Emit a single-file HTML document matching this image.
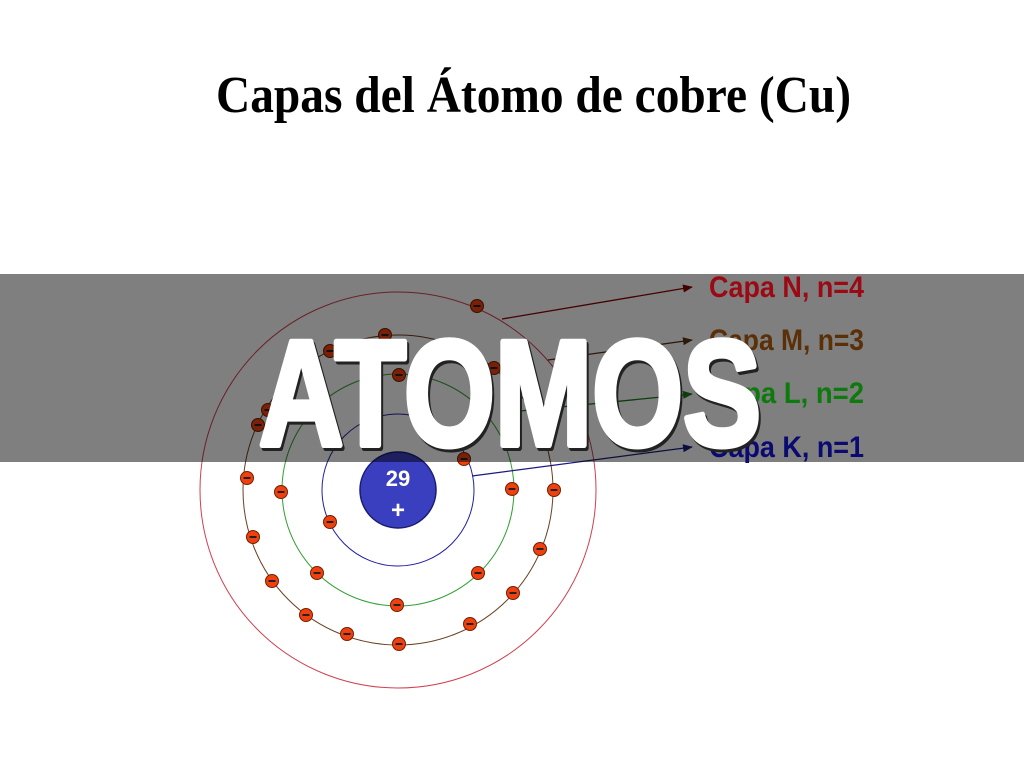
<!DOCTYPE html>
<html><head><meta charset="utf-8"><style>html,body{margin:0;padding:0;background:#fff}svg{display:block}</style></head>
<body>
<svg width="1024" height="768" viewBox="0 0 1024 768" xmlns="http://www.w3.org/2000/svg">
<defs>
<marker id="aN" markerWidth="10" markerHeight="8" refX="9" refY="4" orient="auto" markerUnits="userSpaceOnUse"><path d="M0,0 L10,4 L0,8 Z" fill="#8b0000"/></marker>
<marker id="aM" markerWidth="10" markerHeight="8" refX="9" refY="4" orient="auto" markerUnits="userSpaceOnUse"><path d="M0,0 L10,4 L0,8 Z" fill="#5a3210"/></marker>
<marker id="aL" markerWidth="10" markerHeight="8" refX="9" refY="4" orient="auto" markerUnits="userSpaceOnUse"><path d="M0,0 L10,4 L0,8 Z" fill="#1a7a1a"/></marker>
<marker id="aK" markerWidth="10" markerHeight="8" refX="9" refY="4" orient="auto" markerUnits="userSpaceOnUse"><path d="M0,0 L10,4 L0,8 Z" fill="#1a1a80"/></marker>
<g id="e"><circle r="6.5" fill="#f04010" stroke="#702000" stroke-width="1"/><rect x="-3.5" y="-1" width="7" height="2" fill="#222"/></g>
</defs>
<text x="216" y="112" font-family="Liberation Serif, serif" font-weight="bold" font-size="52" textLength="635" lengthAdjust="spacingAndGlyphs" fill="#000">Capas del Átomo de cobre (Cu)</text>

<g fill="none" stroke-width="1">
<circle cx="398" cy="490" r="198" stroke="#d04050"/>
<circle cx="398" cy="490" r="155" stroke="#6a4020"/>
<circle cx="398" cy="490" r="116" stroke="#30a030"/>
<circle cx="398" cy="490" r="76" stroke="#2020a0"/>
</g>
<line x1="502" y1="319" x2="692" y2="287" stroke="#8b0000" stroke-width="1.3" marker-end="url(#aN)"/>
<line x1="548" y1="360" x2="692" y2="340" stroke="#5a3210" stroke-width="1.3" marker-end="url(#aM)"/>
<line x1="510" y1="412" x2="692" y2="394" stroke="#1a7a1a" stroke-width="1.3" marker-end="url(#aL)"/>
<line x1="472" y1="476" x2="692" y2="447" stroke="#1a1a80" stroke-width="1.3" marker-end="url(#aK)"/>

<circle cx="398" cy="490" r="38" fill="#3a3fc0" stroke="#1a1d70" stroke-width="1.5"/>
<text x="398" y="486" text-anchor="middle" font-family="Liberation Sans, sans-serif" font-weight="bold" font-size="22" fill="#fff">29</text>
<text x="398" y="518" text-anchor="middle" font-family="Liberation Sans, sans-serif" font-weight="bold" font-size="24" fill="#fff">+</text>

<g>
<use href="#e" x="477" y="306"/><use href="#e" x="385" y="335"/><use href="#e" x="330" y="351"/>
<use href="#e" x="399" y="375"/><use href="#e" x="494" y="368"/><use href="#e" x="292" y="378"/>
<use href="#e" x="258" y="425"/><use href="#e" x="483" y="410"/><use href="#e" x="530" y="397"/>
<use href="#e" x="547" y="440"/><use href="#e" x="268" y="410"/>
<use href="#e" x="464" y="459"/><use href="#e" x="330" y="522"/><use href="#e" x="281" y="492"/>
<use href="#e" x="397" y="605"/><use href="#e" x="478" y="573"/><use href="#e" x="317" y="573"/>
<use href="#e" x="512" y="489"/><use href="#e" x="247" y="478"/><use href="#e" x="554" y="490"/>
<use href="#e" x="253" y="537"/><use href="#e" x="540" y="549"/><use href="#e" x="272" y="581"/>
<use href="#e" x="513" y="593"/><use href="#e" x="306" y="615"/><use href="#e" x="470" y="624"/>
<use href="#e" x="347" y="634"/><use href="#e" x="399" y="644"/>
</g>

<rect x="0" y="274" width="1024" height="188" fill="rgba(0,0,0,0.5)"/>

<g font-family="Liberation Sans, sans-serif" font-weight="bold" font-size="30">
<text x="709" y="297" textLength="155" lengthAdjust="spacingAndGlyphs" fill="#9b0a14">Capa N, n=4</text>
<text x="709" y="350" textLength="155" lengthAdjust="spacingAndGlyphs" fill="#5a3008">Capa M, n=3</text>
<text x="709" y="403" textLength="155" lengthAdjust="spacingAndGlyphs" fill="#0d7a0d">Capa L, n=2</text>
<text x="709" y="457" textLength="155" lengthAdjust="spacingAndGlyphs" fill="#0a0a70">Capa K, n=1</text>
</g>

<text x="261" y="448" font-family="Liberation Sans, sans-serif" font-weight="bold" font-size="150" textLength="502" lengthAdjust="spacingAndGlyphs" fill="#222" stroke="#222" stroke-width="6" stroke-linejoin="round">ATOMOS</text>
<text x="259" y="445" font-family="Liberation Sans, sans-serif" font-weight="bold" font-size="150" textLength="502" lengthAdjust="spacingAndGlyphs" fill="#fff" stroke="#fff" stroke-width="6" stroke-linejoin="round">ATOMOS</text>
</svg>
</body></html>
